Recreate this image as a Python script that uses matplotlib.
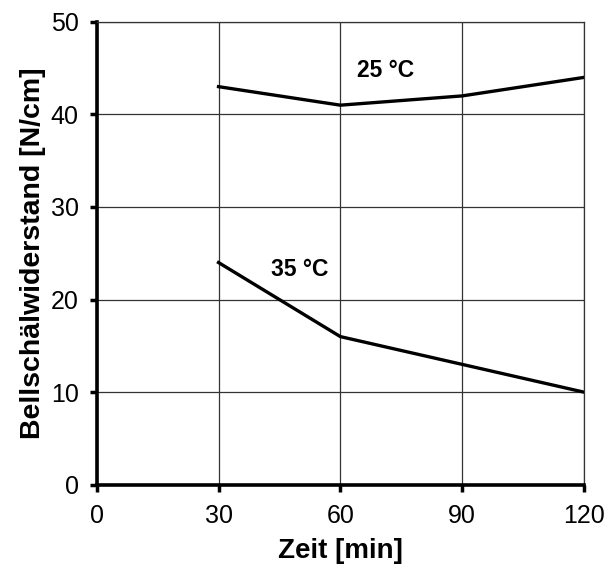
import matplotlib
matplotlib.use("Agg")
import matplotlib.pyplot as plt

plt.rcParams["font.family"] = ["Liberation Sans", "DejaVu Sans"]

zeit = [30, 60, 90, 120]
widerstand_25 = [43, 41, 42, 44]
widerstand_35 = [24, 16, 13, 10]

x_ticks = [0, 30, 60, 90, 120]
y_ticks = [0, 10, 20, 30, 40, 50]

fig = plt.figure(figsize=(6.16, 5.75), dpi=100)
ax = fig.add_axes([0.157, 0.157, 0.791, 0.805])

ax.plot(zeit, widerstand_25, color="black", lw=2.4, solid_joinstyle="miter")
ax.plot(zeit, widerstand_35, color="black", lw=2.4, solid_joinstyle="miter")

ax.text(71.2, 44.7, "25 °C", fontsize=16.5, fontweight="bold", ha="center", va="center")
ax.text(50, 23.2, "35 °C", fontsize=16.5, fontweight="bold", ha="center", va="center")

ax.set_xlim(0, 120)
ax.set_ylim(0, 50)
ax.set_xticks(x_ticks)
ax.set_yticks(y_ticks)
ax.tick_params(direction="out", length=5, width=2.5, labelsize=18)
ax.tick_params(axis="x", pad=9)
ax.tick_params(axis="y", pad=8)
ax.grid(True, color="#333333", lw=0.9)
ax.set_axisbelow(True)

for side in ("left", "bottom"):
    ax.spines[side].set_linewidth(2.6)
for side in ("top", "right"):
    ax.spines[side].set_linewidth(0.9)
    ax.spines[side].set_color("#333333")

ax.set_xlabel("Zeit [min]", fontsize=20, fontweight="bold", labelpad=7)
ax.set_ylabel("Bellschälwiderstand [N/cm]", fontsize=20.5, fontweight="bold", labelpad=3)

fig.savefig("out.png", dpi=100)
